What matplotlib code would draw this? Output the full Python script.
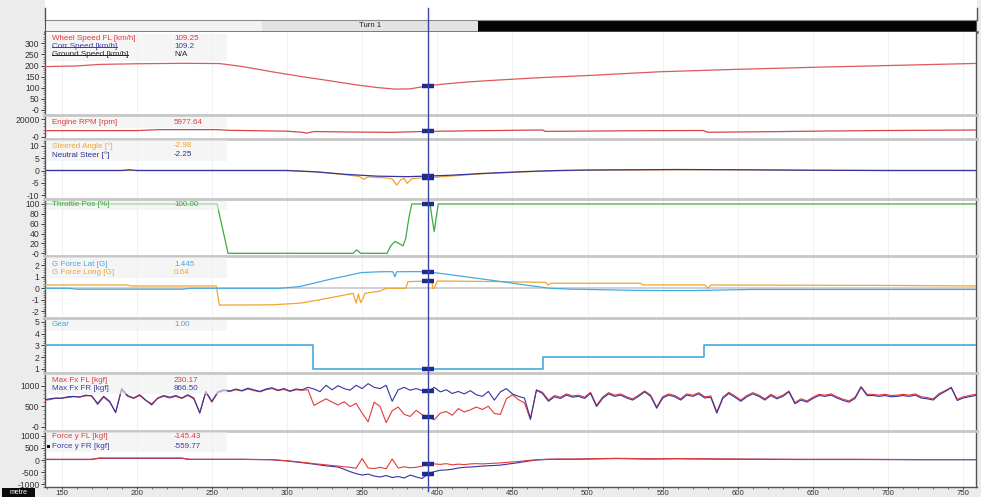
import numpy as np
import matplotlib
matplotlib.use("Agg")
import matplotlib.pyplot as plt
import matplotlib.transforms as mtransforms
from matplotlib.lines import Line2D
from matplotlib.patches import Rectangle
from matplotlib.ticker import FixedLocator, FixedFormatter, MultipleLocator

plt.rcParams["font.family"] = ["Liberation Sans", "DejaVu Sans"]

# ---------------- channel data (distance in metres) ----------------
cursor_dist = 394.0

segment_start = [139.0, 283.4, 427.1]
segment_end = [283.4, 427.1, 758.8]
segment_names = ["", "Turn 1", ""]

speed_dist = [138, 160, 175, 200, 230, 255, 270, 290, 310, 329, 345, 360, 372, 382,
              394, 405, 420, 441, 470, 500, 548, 600, 650, 700, 762]
wheel_speed_fl = [195, 198, 205, 208, 210, 209, 196, 172, 150, 131, 114, 101, 94, 95,
                  109.25, 117, 126, 135, 146, 155, 172, 183, 192, 200, 210]

rpm_dist = [138, 200, 215, 253, 262, 300, 310, 313, 318, 340, 370, 394, 430, 470,
            472, 540, 577, 580, 620, 660, 700, 762]
engine_rpm = [6800, 6900, 8000, 8000, 7200, 6200, 5000, 4000, 5800, 5300, 4900, 5977.64,
              6800, 7600, 6000, 6800, 7000, 5000, 5600, 6400, 7000, 7600]

steer_dist = [138, 300, 320, 340, 348, 351, 354, 360, 366, 370, 373, 376, 378, 380,
              383, 386, 390, 394, 410, 430, 460, 480, 500, 560, 600, 650, 700, 762]
steered_angle = [0, 0, -0.5, -1.8, -2.4, -3.6, -2.6, -2.8, -3.0, -3.4, -5.9, -3.6, -3.2, -5.2,
                 -3.4, -3.1, -3.0, -2.98, -2.2, -1.3, -0.5, -0.1, 0.1, 0.3, 0.3, 0.1, 0.0, 0.0]

neutral_dist = [138, 190, 195, 200, 300, 320, 340, 360, 380, 394, 410, 430, 460, 480,
                500, 560, 600, 650, 700, 762]
neutral_steer = [0, 0, 0.3, 0, 0, -0.6, -1.6, -2.3, -2.5, -2.25, -1.9, -1.2, -0.4, 0,
                 0.2, 0.4, 0.3, 0.1, 0, 0]

throttle_dist = [138, 253.5, 260.8, 344, 346.4, 349, 366.6, 369, 371.9, 374.5, 377.2, 379,
                 381, 383, 395.2, 396.6, 398, 399.4, 400.7, 762]
throttle_pos = [100, 100, 0, 0, 7, 0, 0, 15, 24, 20, 15, 30,
                70, 100, 100, 70, 44, 75, 100, 100]

glat_dist = [138, 155, 160, 230, 236, 295, 308, 318, 329, 340, 349, 360, 368, 370.5,
             371.8, 373, 385, 394, 408, 428, 442, 458, 475, 490, 508, 530, 550, 570,
             590, 610, 700, 762]
g_force_lat = [0.0, 0.0, -0.08, -0.08, 0.0, 0.0, 0.14, 0.45, 0.8, 1.1, 1.37, 1.44, 1.46, 1.45,
               1.0, 1.45, 1.46, 1.445, 1.2, 0.85, 0.6, 0.3, 0.0, -0.08, -0.12, -0.18, -0.2, -0.2,
               -0.15, -0.1, -0.1, -0.1]

glong_dist = [138, 194, 196, 253, 255, 290, 309, 320, 330, 344, 346, 347.5, 349, 350.5,
              352, 356, 362, 366, 379, 380.5, 394, 396.5, 397, 398, 400, 430, 460, 472,
              473.7, 475.5, 535, 537, 578, 580, 582, 700, 762]
g_force_long = [0.29, 0.29, 0.2, 0.2, -1.47, -1.45, -1.3, -1.05, -0.8, -0.44, -1.3, -0.5, -1.25, -0.9,
                -0.45, -0.35, -0.25, 0.0, 0.0, 0.58, 0.64, 0.62, 0.0, 0.0, 0.64, 0.6, 0.55, 0.52,
                0.29, 0.44, 0.44, 0.3, 0.3, 0.0, 0.29, 0.25, 0.2]

gear_dist = [138, 317.5, 470.6, 577.5, 762]
gear = [3, 1, 2, 3, 3]

fx_dist = np.arange(138, 763, 4)
max_fx_fr = [650, 680, 700, 690, 730, 740, 720, 770, 750, 570,
             740, 620, 340, 930, 760, 700, 780, 650, 530, 700,
             760, 720, 760, 700, 780, 700, 330, 860, 620, 850,
             900, 870, 920, 880, 940, 900, 860, 920, 950, 890,
             930, 870, 920, 900, 960, 920, 855, 1010, 900, 1000,
             930, 890, 1010, 930, 1050, 960, 930, 1010, 620, 900,
             960, 890, 930, 880, 866.50, 960, 850, 900, 810, 860,
             800, 880, 780, 740, 860, 650, 850, 930, 800, 740,
             700, 200, 890, 810, 620, 730, 690, 770, 720, 740,
             690, 810, 490, 690, 800, 740, 770, 700, 650, 740,
             850, 740, 450, 700, 770, 730, 650, 770, 740, 800,
             700, 720, 330, 690, 810, 720, 620, 730, 800, 740,
             650, 760, 680, 740, 850, 560, 650, 600, 690, 760,
             740, 770, 700, 640, 600, 690, 960, 760, 760, 740,
             760, 730, 740, 760, 740, 770, 700, 680, 650, 780,
             860, 950, 640, 700, 730, 760, 770]
max_fx_fl = [640, 660, 690, 700, 710, 730, 730, 750, 760, 540,
             720, 600, 360, 900, 740, 690, 760, 640, 560, 690,
             740, 700, 740, 690, 760, 680, 350, 840, 600, 830,
             880, 860, 900, 870, 920, 880, 850, 900, 930, 880,
             910, 860, 900, 890, 900, 520, 600, 680, 600, 530,
             610, 490, 570, 330, 120, 600, 490, 100, 390, 480,
             300, 250, 400, 290, 230.17, 170, 330, 370, 280, 440,
             360, 410, 480, 420, 500, 320, 300, 680, 780, 660,
             580, 170, 900, 840, 650, 760, 720, 800, 750, 770,
             720, 840, 520, 720, 830, 770, 800, 730, 680, 770,
             870, 770, 480, 730, 800, 760, 680, 800, 770, 830,
             730, 750, 360, 720, 840, 750, 650, 760, 830, 770,
             680, 790, 710, 770, 870, 590, 680, 630, 720, 790,
             770, 800, 730, 670, 630, 720, 980, 790, 790, 770,
             790, 760, 770, 790, 770, 800, 730, 710, 680, 810,
             880, 960, 670, 730, 760, 790, 800]

fy_dist = [138, 170, 175, 230, 235, 270, 290, 300, 310, 318,
           326, 334, 338, 342, 346, 350, 354, 358, 362, 366,
           370, 374, 378, 382, 386, 390, 394, 398, 402, 406,
           410, 414, 418, 422, 426, 430, 436, 442, 448, 454,
           460, 466, 472, 480, 490, 500, 520, 540, 560, 600,
           640, 680, 720, 762]
force_y_fr = [20, 20, 70, 70, 25, 25, 10, -40, -110, -170,
              -240, -290, -380, -480, -560, -620, -580, -660, -700, -640,
              -720, -680, -740, -620, -700, -760, -559.77, -480, -420, -410,
              -380, -330, -300, -290, -270, -250, -230, -210, -160, -110,
              -50, 0, 20, 30, 30, 40, 60, 40, 50, 30,
              20, 20, 10, 10]
force_y_fl = [30, 30, 80, 80, 30, 30, 15, -30, -90, -150,
              -200, -250, -280, -300, -340, 60, -330, -350, -300, -360,
              40, -330, -280, -320, -300, -250, -145.43, -160, -180, -150,
              -200, -170, -190, -160, -150, -160, -140, -120, -90, -60,
              -20, 10, 30, 40, 40, 50, 70, 50, 60, 40,
              30, 30, 20, 20]

x_ticks = [150, 200, 250, 300, 350, 400, 450, 500, 550, 600, 650, 700, 750]

# ---------------- colours ----------------
RED = "#e23a3a"
BLUE = "#34349e"
ORANGE = "#f2a52c"
GREEN = "#38ad3c"
LIGHTBLUE = "#45a9e0"
CURSOR = "#3a46a6"
MARK = "#1d2b8c"

# ---------------- figure layout (pixel geometry) ----------------
W, H = 981, 497
fig = plt.figure(figsize=(W / 100, H / 100), dpi=100, facecolor="#ececec")

X_LEFT, X_RIGHT = 45.0, 976.5
XLIM = (139.0, 758.8)
FRAME = "#525252"
SEP = "#c6c6c6"


def px_rect(y_top, y_bot):
    return [X_LEFT / W, 1 - y_bot / H, (X_RIGHT - X_LEFT) / W, (y_bot - y_top) / H]


def fig_y(y):
    return 1 - y / H


# white strip above the segment bar
fig.add_artist(Rectangle((X_LEFT / W, fig_y(19.5)), (X_RIGHT - X_LEFT) / W, 19.5 / H,
                         transform=fig.transFigure, facecolor="white", edgecolor="none", zorder=0))
for xv in (X_LEFT, X_RIGHT):
    fig.add_artist(Line2D([xv / W, xv / W], [fig_y(8), fig_y(19.5)], transform=fig.transFigure,
                          color=FRAME, lw=1.0))

# segment bar
bar = fig.add_axes(px_rect(19.5, 32.3))
bar.set_xlim(XLIM)
bar.set_ylim(0, 1)
seg_colors = ["#f2f2f2", "#e3e3e3", "#050505"]
for s, e, name, c in zip(segment_start, segment_end, segment_names, seg_colors):
    bar.axvspan(s, e, color=c, lw=0)
    if name:
        bar.text((s + e) / 2, 0.5, name, ha="center", va="center", fontsize=5.6, color="#202020")
bar.set_xticks([])
bar.set_yticks([])
bar.spines["top"].set_color("#8c8c8c")
bar.spines["bottom"].set_color("#5a5a5a")
bar.spines["bottom"].set_linewidth(1.8)
for sp in ("left", "right"):
    bar.spines[sp].set_color(FRAME)

# panel geometry: (top px, bottom px, ylim, tick values, tick labels, minor step)
panels = [
    (32.3, 115.0, (-22.5, 349.5), [0, 50, 100, 150, 200, 250, 300],
     ["-0", "50", "100", "150", "200", "250", "300"], 10),
    (115.0, 139.0, (-2755, 24790), [0, 20000], ["-0", "20000"], 4000),
    (139.0, 199.3, (-11.7, 12.8), [-10, -5, 0, 5, 10], ["-10", "-5", "0", "5", "10"], 1),
    (199.3, 256.0, (-5.5, 109.5), [0, 20, 40, 60, 80, 100],
     ["-0", "20", "40", "60", "80", "100"], 4),
    (256.0, 318.3, (-2.63, 2.83), [-2, -1, 0, 1, 2], ["-2", "-1", "0", "1", "2"], 0.2),
    (318.3, 373.0, (0.66, 5.29), [1, 2, 3, 4, 5], ["1", "2", "3", "4", "5"], 0.2),
    (373.0, 430.5, (-93, 1310), [0, 500, 1000], ["-0", "500", "1000"], 100),
    (430.5, 487.3, (-1123, 1214), [-1000, -500, 0, 500, 1000],
     ["-1000", "-500", "0", "500", "1000"], 100),
]

axes = []
for i, (yt, yb, ylim, tv, tl, mstep) in enumerate(panels):
    ax = fig.add_axes(px_rect(yt, yb))
    ax.set_facecolor("white")
    ax.set_xlim(XLIM)
    ax.set_ylim(ylim)
    ax.yaxis.set_major_locator(FixedLocator(tv))
    ax.yaxis.set_major_formatter(FixedFormatter(tl))
    ax.yaxis.set_minor_locator(MultipleLocator(mstep))
    ax.xaxis.set_major_locator(FixedLocator(x_ticks))
    ax.xaxis.set_minor_locator(MultipleLocator(10))
    ax.tick_params(axis="y", which="major", direction="out", length=3.2, width=0.7,
                   color="#404040", labelsize=6.2, labelcolor="#333333", pad=0.8)
    ax.tick_params(axis="y", which="minor", direction="out", length=1.6, width=0.5, color="#555555")
    ax.grid(axis="x", which="major", color="#f1f1f1", lw=0.8, zorder=0)
    ax.spines["top"].set_color(SEP)
    ax.spines["top"].set_linewidth(2.0)
    ax.spines["top"].set_visible(i != 0)
    for sp in ("left", "right"):
        ax.spines[sp].set_color(FRAME)
        ax.spines[sp].set_linewidth(1.0)
    if i < len(panels) - 1:
        ax.spines["bottom"].set_visible(False)
        ax.tick_params(axis="x", which="both", bottom=False, labelbottom=False)
    else:
        ax.spines["bottom"].set_color(FRAME)
        ax.spines["bottom"].set_linewidth(1.0)
        ax.xaxis.set_major_formatter(FixedFormatter([str(v) for v in x_ticks]))
        ax.tick_params(axis="x", which="major", direction="out", length=1.6, width=0.7,
                       color="#404040", labelsize=5.6, labelcolor="#333333", pad=0.1)
        ax.tick_params(axis="x", which="minor", direction="out", length=1.1, width=0.5,
                       color="#555555")
    axes.append(ax)

ax_spd, ax_rpm, ax_str, ax_thr, ax_g, ax_gear, ax_fx, ax_fy = axes


def trace(ax, d, v, color, lw=0.9, steps=False, z=3):
    ax.plot(d, v, color=color, lw=lw, zorder=z, drawstyle="steps-post" if steps else "default")
    if steps:
        idx = np.searchsorted(d, cursor_dist, side="right") - 1
        val = v[idx]
    else:
        val = np.interp(cursor_dist, d, v)
    ax.plot([cursor_dist], [val], marker="_", ms=8, mew=3.2, color=MARK, zorder=6)


trace(ax_spd, speed_dist, wheel_speed_fl, "#e05858")
trace(ax_rpm, rpm_dist, engine_rpm, "#d84444")
trace(ax_str, steer_dist, steered_angle, ORANGE)
trace(ax_str, neutral_dist, neutral_steer, BLUE, z=4)
trace(ax_thr, throttle_dist, throttle_pos, GREEN)
ax_g.axhline(0, color="#c3cbd3", lw=1.2, zorder=2)
trace(ax_g, glong_dist, g_force_long, ORANGE)
trace(ax_g, glat_dist, g_force_lat, LIGHTBLUE, z=4)
trace(ax_gear, gear_dist, gear, LIGHTBLUE, lw=1.2, steps=True)
trace(ax_fx, fx_dist, max_fx_fl, RED, lw=0.8)
trace(ax_fx, fx_dist, max_fx_fr, BLUE, lw=0.8, z=4)
trace(ax_fy, fy_dist, force_y_fl, RED, lw=0.8, z=4)
trace(ax_fy, fy_dist, force_y_fr, BLUE, lw=0.8)

# cursor line across the whole stack
cursor_tr = mtransforms.blended_transform_factory(ax_spd.transData, fig.transFigure)
fig.add_artist(Line2D([cursor_dist, cursor_dist], [fig_y(8), fig_y(491)], transform=cursor_tr,
                      color=CURSOR, lw=1.0, zorder=10))

# channel read-outs in each panel
legend_rows = [
    (0, 38.3, "Wheel Speed FL [km/h]", "109.25", RED, False),
    (0, 46.7, "Corr Speed [km/h]", "109.2", "#3c3ca6", True),
    (0, 55.0, "Ground Speed [km/h]", "N/A", "#222222", True),
    (1, 122.3, "Engine RPM [rpm]", "5977.64", RED, False),
    (2, 146.0, "Steered Angle [°]", "-2.98", ORANGE, False),
    (2, 155.0, "Neutral Steer [°]", "-2.25", "#2c2c8e", False),
    (3, 204.8, "Throttle Pos [%]", "100.00", GREEN, False),
    (4, 264.0, "G Force Lat [G]", "1.445", LIGHTBLUE, False),
    (4, 272.7, "G Force Long [G]", "0.64", ORANGE, False),
    (5, 325.0, "Gear", "1.00", LIGHTBLUE, False),
    (6, 380.0, "Max Fx FL [kgf]", "230.17", RED, False),
    (6, 388.3, "Max Fx FR [kgf]", "866.50", "#3c3ca6", False),
    (7, 436.5, "Force y FL [kgf]", "-145.43", RED, False),
    (7, 446.0, "Force y FR [kgf]", "-559.77", "#3c3ca6", False),
]

# translucent boxes behind the read-outs
for i, (yt, yb, *_rest) in enumerate(panels):
    rows = [r for r in legend_rows if r[0] == i]
    box_bot = max(r[1] for r in rows) + 5.5
    fig.add_artist(Rectangle((47 / W, fig_y(box_bot)), (227 - 47) / W, (box_bot - yt - 1.5) / H,
                             transform=fig.transFigure, facecolor="#efefef", alpha=0.6,
                             edgecolor="none", zorder=1))

fig.canvas.draw()
renderer = fig.canvas.get_renderer()
inv = fig.transFigure.inverted()
for (i, y, name, val, col, struck) in legend_rows:
    t = fig.text(52 / W, fig_y(y), name, fontsize=5.8, color=col, va="center", ha="left", zorder=7)
    fig.text(174 / W, fig_y(y), val, fontsize=5.8, color=col, va="center", ha="left", zorder=7)
    if struck:
        bb = t.get_window_extent(renderer=renderer)
        (x0, _), (x1, _) = inv.transform([(bb.x0, 0), (bb.x1, 0)])
        fig.add_artist(Line2D([x0, x1], [fig_y(y + 0.3)] * 2, transform=fig.transFigure,
                              color=col, lw=0.7, zorder=8))

# small selection square beside the last read-out
fig.add_artist(Rectangle((46.8 / W, fig_y(447.6)), 3 / W, 3 / H, transform=fig.transFigure,
                         facecolor="#111111", edgecolor="none", zorder=8))

# unit box at the bottom-left
fig.add_artist(Rectangle((2 / W, 0), 33 / W, 9.5 / H, transform=fig.transFigure,
                         facecolor="#0a0a0a", edgecolor="none", zorder=8))
fig.text(18.5 / W, fig_y(492.5), "metre", fontsize=5.0, color="white", ha="center",
         va="center", zorder=9)

fig.savefig("out.png", dpi=100, facecolor=fig.get_facecolor())
